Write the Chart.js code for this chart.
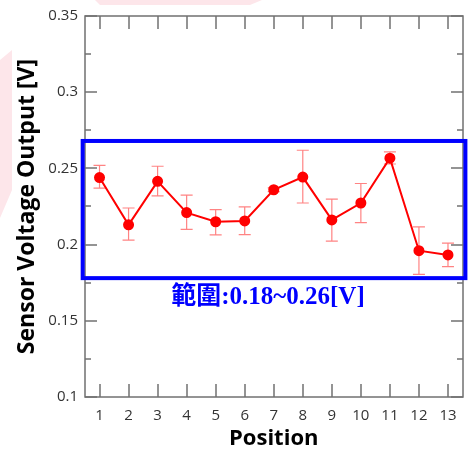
<!DOCTYPE html>
<html>
<head>
<meta charset="utf-8">
<script src="https://cdn.jsdelivr.net/npm/chart.js@4"></script>
<style>
    html, body { margin: 0; padding: 0; background: #fff; }
    #wrap { width: 469px; height: 452px; position: relative; }
</style>
</head>
<body>
<div id="wrap"><canvas id="chart" width="469" height="452"></canvas></div>
<script>
const positions = [1, 2, 3, 4, 5, 6, 7, 8, 9, 10, 11, 12, 13];
const voltage = [0.244, 0.213, 0.2415, 0.221, 0.215, 0.2155, 0.236, 0.2443, 0.2162, 0.2273, 0.2567, 0.196, 0.1932];
const errHigh = [0.252, 0.224, 0.2514, 0.2325, 0.223, 0.2247, 0.2372, 0.2619, 0.2299, 0.2401, 0.2608, 0.2116, 0.201];
const errLow = [0.237, 0.203, 0.232, 0.210, 0.2064, 0.2066, 0.2348, 0.2273, 0.2023, 0.2144, 0.2529, 0.1805, 0.1855];
const yTicks = [0.1, 0.125, 0.15, 0.175, 0.2, 0.225, 0.25, 0.275, 0.3, 0.325, 0.35];
const yLabels = ["0.1", "0.15", "0.2", "0.25", "0.3", "0.35"];

// highlighted range box and its note
const rangeBox = { x1: 0.42, x2: 13.6, y1: 0.178, y2: 0.268 };
const rangeNote = { text: "範圍:0.18~0.26[V]", x: 6.8, y: 0.1655 };

const AXIS_GREY = "#707070";
const TEXT = "#333333";

const slideBackdrop = {
    id: "slideBackdrop",
    beforeDraw(chart) {
        const ctx = chart.ctx;
        ctx.save();
        ctx.fillStyle = "#fde6ea";
        ctx.beginPath();
        ctx.moveTo(95, 0); ctx.lineTo(262, 0); ctx.lineTo(250, 5); ctx.lineTo(100, 5);
        ctx.closePath();
        ctx.fill();
        ctx.beginPath();
        ctx.moveTo(0, 60); ctx.lineTo(12, 50); ctx.lineTo(12, 190); ctx.lineTo(0, 218);
        ctx.closePath();
        ctx.fill();
        ctx.restore();
    }
};

const errorBars = {
    id: "errorBars",
    beforeDatasetsDraw(chart) {
        const { ctx, scales: { x, y } } = chart;
        ctx.save();
        ctx.strokeStyle = "rgba(255, 90, 90, 0.75)";
        ctx.lineWidth = 1.2;
        positions.forEach((p, i) => {
            const px = x.getPixelForValue(p);
            const top = y.getPixelForValue(errHigh[i]);
            const bot = y.getPixelForValue(errLow[i]);
            ctx.beginPath();
            ctx.moveTo(px, top); ctx.lineTo(px, bot);
            ctx.moveTo(px - 6, top); ctx.lineTo(px + 6, top);
            ctx.moveTo(px - 6, bot); ctx.lineTo(px + 6, bot);
            ctx.stroke();
        });
        ctx.restore();
    }
};

function tickLine(ctx, x1, y1, x2, y2) {
    ctx.beginPath();
    ctx.moveTo(x1, y1);
    ctx.lineTo(x2, y2);
    ctx.stroke();
}

const frameTicks = {
    id: "frameTicks",
    afterDraw(chart) {
        const ctx = chart.ctx;
        const a = chart.chartArea;
        const xs = chart.scales.x;
        const ys = chart.scales.y;
        const L = Math.round(a.left);
        const R = Math.round(a.right);
        const T = Math.round(a.top);
        const B = Math.round(a.bottom);
        ctx.save();
        ctx.strokeStyle = AXIS_GREY;
        ctx.lineWidth = 1.5;
        ctx.strokeRect(L, T, R - L, B - T);
        for (const p of positions) {
            const px = Math.round(xs.getPixelForValue(p));
            tickLine(ctx, px, B, px, B - 13);
            tickLine(ctx, px, T, px, T + 13);
        }
        yTicks.forEach((v, i) => {
            const py = Math.round(ys.getPixelForValue(v));
            const len = i % 2 === 0 ? 12 : 6;
            tickLine(ctx, L, py, L + len, py);
            tickLine(ctx, R, py, R - len, py);
        });

        // range box
        const bx1 = xs.getPixelForValue(rangeBox.x1);
        const bx2 = xs.getPixelForValue(rangeBox.x2);
        const by1 = ys.getPixelForValue(rangeBox.y2);
        const by2 = ys.getPixelForValue(rangeBox.y1);
        ctx.strokeStyle = "#0000ff";
        ctx.lineWidth = 4;
        ctx.strokeRect(bx1, by1, bx2 - bx1, by2 - by1);

        ctx.fillStyle = "#0000ff";
        ctx.font = "bold 25px 'Liberation Serif', 'Noto Sans CJK TC', serif";
        ctx.textAlign = "center";
        ctx.textBaseline = "middle";
        ctx.fillText(rangeNote.text, xs.getPixelForValue(rangeNote.x), ys.getPixelForValue(rangeNote.y));
        ctx.restore();
    }
};

new Chart(document.getElementById("chart").getContext("2d"), {
    type: "line",
    data: {
        datasets: [{
            data: positions.map((p, i) => ({ x: p, y: voltage[i] })),
            borderColor: "#ff0000",
            backgroundColor: "#ff0000",
            borderWidth: 2,
            pointRadius: 4.5,
            pointHoverRadius: 4.5,
            tension: 0
        }]
    },
    options: {
        responsive: false,
        animation: false,
        layout: { padding: { top: 14, right: 6, left: 2, bottom: 0 } },
        plugins: {
            legend: { display: false },
            tooltip: { enabled: false }
        },
        scales: {
            x: {
                type: "linear",
                min: 0.5,
                max: 13.5,
                afterBuildTicks: axis => {
                    axis.ticks = positions.map(v => ({ value: v }));
                },
                afterFit: axis => { axis.height = 55; },
                grid: { display: false, drawTicks: false },
                border: { display: false },
                ticks: {
                    color: TEXT,
                    padding: 10,
                    font: { family: "'Open Sans', sans-serif", size: 15 },
                    callback: v => String(v)
                },
                title: {
                    display: true,
                    text: "Position",
                    color: "#000",
                    padding: { top: 1, bottom: 0 },
                    font: { family: "'Open Sans', sans-serif", size: 22, weight: "bold" }
                }
            },
            y: {
                min: 0.1,
                max: 0.35,
                afterBuildTicks: axis => {
                    axis.ticks = yLabels.map(v => ({ value: Number(v) }));
                },
                afterFit: axis => { axis.width = 83; },
                grid: { display: false, drawTicks: false },
                border: { display: false },
                ticks: {
                    color: TEXT,
                    padding: 7,
                    font: { family: "'Open Sans', sans-serif", size: 15 },
                    callback: v => yLabels.find(l => Number(l) === v) || ""
                },
                title: {
                    display: true,
                    text: "Sensor Voltage Output [V]",
                    color: "#000",
                    padding: { top: 12, bottom: 0 },
                    font: { family: "'Open Sans', sans-serif", size: 23, weight: "bold" }
                }
            }
        }
    },
    plugins: [slideBackdrop, errorBars, frameTicks]
});
</script>
</body>
</html>
